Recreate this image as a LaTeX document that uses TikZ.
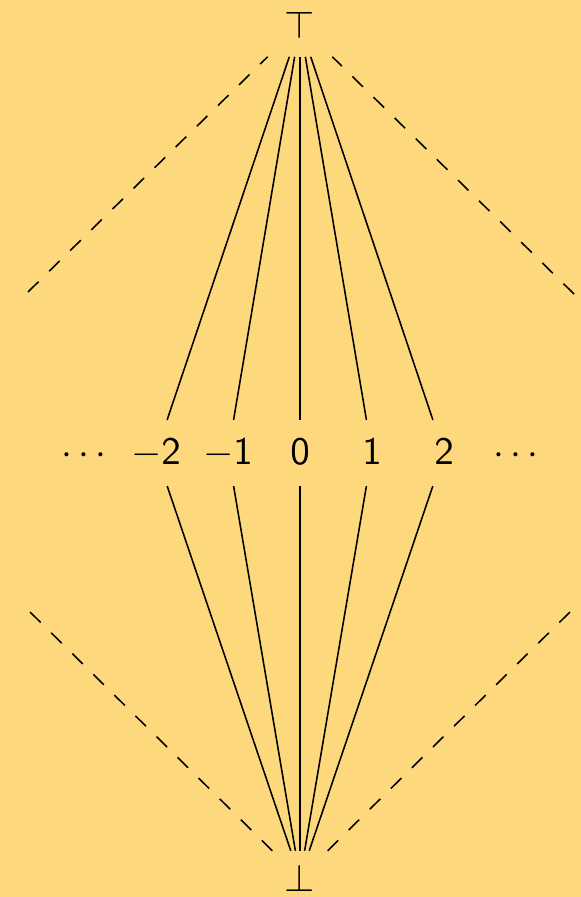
\documentclass[tikz,border=0pt]{standalone}
\usepackage{xcolor}
\definecolor{slideyellow}{RGB}{254, 216, 124}

\begin{document}
\begin{tikzpicture}[x=0.257pt, y=-0.257pt,
    num/.style={inner sep=4.3pt, text height=7pt, text depth=1pt},
    gap/.style={dash pattern=on 3.8pt off 3.8pt}]
    % Page and background
    \useasboundingbox (0,0) rectangle (581,897);
    \fill[slideyellow] (0,0) rectangle (581,897);

    % Top and bottom elements
    \node[inner sep=4.5pt] (top) at (300,25) {$\top$};
    \node (bot) at (300,878) {$\bot$};

    % The integers
    \node[num] (dl) at (84,453) {$\cdots$};
    \node[num] (m2) at (156,453) {$-\mathsf{2}$};
    \node[num] (m1) at (228,453) {$-\mathsf{1}$};
    \node[num] (z0) at (300,453) {$\mathsf{0}$};
    \node[num] (p1) at (372,453) {$\mathsf{1}$};
    \node[num] (p2) at (444,453) {$\mathsf{2}$};
    \node[num] (dr) at (516,453) {$\cdots$};

    % Free ends of the dashed edges
    \coordinate (tl) at (28,292);
    \coordinate (tr) at (574,294);
    \coordinate (bl) at (28,610);
    \coordinate (br) at (572,610);

    % Edges up to top
    \draw (top) -- (m2);
    \draw (top) -- (m1);
    \draw (top) -- (z0);
    \draw (top) -- (p1);
    \draw (top) -- (p2);
    \draw[gap] (tl) -- (top);
    \draw[gap] (tr) -- (top);

    % Edges down to bottom
    \draw (m2) -- (bot);
    \draw (m1) -- (bot);
    \draw (z0) -- (bot);
    \draw (p1) -- (bot);
    \draw (p2) -- (bot);
    \draw[gap] (bot) -- (bl);
    \draw[gap] (bot) -- (br);
\end{tikzpicture}
\end{document}
